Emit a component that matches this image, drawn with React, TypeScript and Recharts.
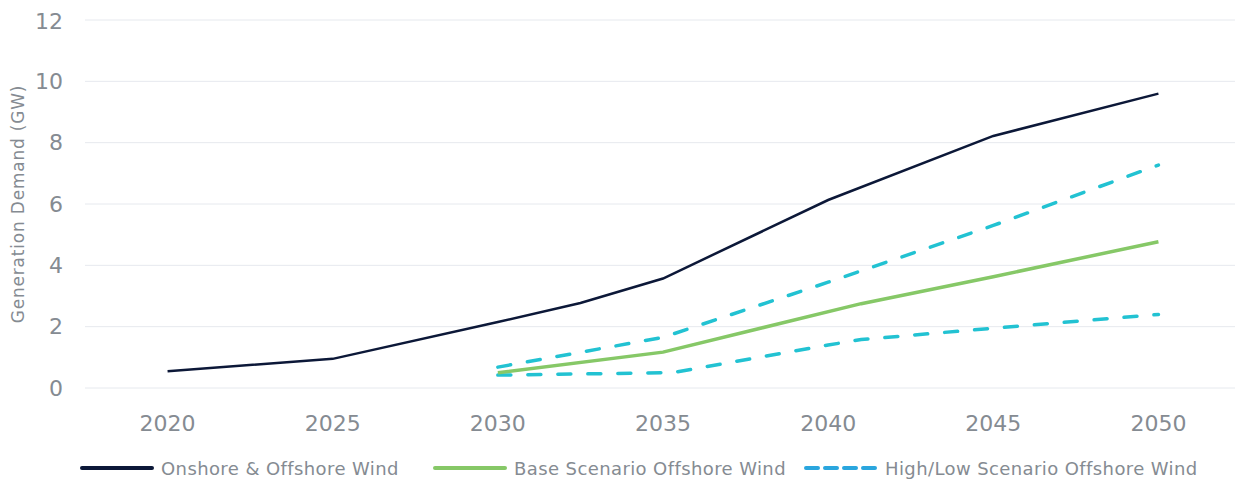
import React from "react";
import { LineChart, Line, XAxis, YAxis, CartesianGrid, Legend } from "recharts";

const xTicks = [2020, 2025, 2030, 2035, 2040, 2045, 2050];
const yTicks = [0, 2, 4, 6, 8, 10, 12];

const onshore = [
  { year: 2020, value: 0.55 },
  { year: 2025, value: 0.95 },
  { year: 2030, value: 2.15 },
  { year: 2032.5, value: 2.77 },
  { year: 2035, value: 3.57 },
  { year: 2040, value: 6.13 },
  { year: 2045, value: 8.22 },
  { year: 2050, value: 9.6 },
];

const baseOffshore = [
  { year: 2030, value: 0.5 },
  { year: 2035, value: 1.17 },
  { year: 2041, value: 2.75 },
  { year: 2045, value: 3.63 },
  { year: 2050, value: 4.77 },
];

const highOffshore = [
  { year: 2030, value: 0.68 },
  { year: 2035, value: 1.65 },
  { year: 2040, value: 3.45 },
  { year: 2045, value: 5.3 },
  { year: 2050, value: 7.27 },
];

const lowOffshore = [
  { year: 2030, value: 0.42 },
  { year: 2035.3, value: 0.5 },
  { year: 2040, value: 1.4 },
  { year: 2041, value: 1.58 },
  { year: 2045, value: 1.95 },
  { year: 2050, value: 2.4 },
];

const legendItems = [
  { label: "Onshore & Offshore Wind", color: "#0c1838", dashed: false, left: 72 },
  { label: "Base Scenario Offshore Wind", color: "#86c867", dashed: false, left: 425 },
  { label: "High/Low Scenario Offshore Wind", color: "#2aa6de", dashed: true, left: 796 },
];

const FONT = "'DejaVu Sans', sans-serif";
const TEXT = "#858b92";

const renderLegend = () => (
  <div
    style={{
      position: "relative",
      height: 24,
      fontFamily: FONT,
      fontSize: 18,
      letterSpacing: 0.4,
      color: TEXT,
    }}
  >
    {legendItems.map((it) => (
      <div
        key={it.label}
        style={{
          position: "absolute",
          left: it.left,
          top: 0,
          height: 24,
          display: "flex",
          alignItems: "center",
        }}
      >
        <svg width={74} height={8} style={{ marginRight: 7 }}>
          <line
            x1={2}
            y1={4}
            x2={72}
            y2={4}
            stroke={it.color}
            strokeWidth={4}
            strokeLinecap="round"
            strokeDasharray={it.dashed ? "12 7" : undefined}
          />
        </svg>
        <span style={{ whiteSpace: "nowrap" }}>{it.label}</span>
      </div>
    ))}
  </div>
);

export default function App() {
  return (
    <LineChart
      width={1235}
      height={472}
      margin={{ top: 12, right: 2, left: 0, bottom: 0 }}
      style={{ fontFamily: FONT }}
    >
      <CartesianGrid vertical={false} stroke="#e6e9ee" strokeWidth={1} />
      <XAxis
        dataKey="year"
        type="number"
        domain={[2017.5, 2052.5]}
        ticks={xTicks}
        allowDuplicatedCategory={false}
        axisLine={false}
        tickLine={false}
        tickSize={0}
        tickMargin={27}
        height={68}
        tick={{ fill: TEXT, fontSize: 22, fontFamily: FONT }}
      />
      <YAxis
        type="number"
        domain={[0, 12]}
        ticks={yTicks}
        axisLine={false}
        tickLine={false}
        tickSize={0}
        tickMargin={22}
        width={77}
        tick={{ fill: TEXT, fontSize: 22, fontFamily: FONT }}
        label={{
          value: "Generation Demand (GW)",
          angle: -90,
          position: "insideLeft",
          offset: 0,
          dx: 10,
          fill: TEXT,
          fontSize: 17,
          letterSpacing: 0.8,
          fontFamily: FONT,
          style: { textAnchor: "middle" },
        }}
      />
      <Legend verticalAlign="bottom" align="left" content={renderLegend} height={24} />
      <Line
        data={onshore}
        dataKey="value"
        name="Onshore & Offshore Wind"
        stroke="#0c1838"
        strokeWidth={2.5}
        dot={false}
        activeDot={false}
        isAnimationActive={false}
        type="linear"
      />
      <Line
        data={highOffshore}
        dataKey="value"
        name="High Scenario Offshore Wind"
        stroke="#22c2d2"
        strokeWidth={3.5}
        strokeDasharray="13 17"
        strokeLinecap="round"
        dot={false}
        activeDot={false}
        isAnimationActive={false}
        type="linear"
      />
      <Line
        data={lowOffshore}
        dataKey="value"
        name="Low Scenario Offshore Wind"
        stroke="#22c2d2"
        strokeWidth={3.5}
        strokeDasharray="13 17"
        strokeLinecap="round"
        dot={false}
        activeDot={false}
        isAnimationActive={false}
        type="linear"
      />
      <Line
        data={baseOffshore}
        dataKey="value"
        name="Base Scenario Offshore Wind"
        stroke="#86c867"
        strokeWidth={3.5}
        dot={false}
        activeDot={false}
        isAnimationActive={false}
        type="linear"
      />
    </LineChart>
  );
}
